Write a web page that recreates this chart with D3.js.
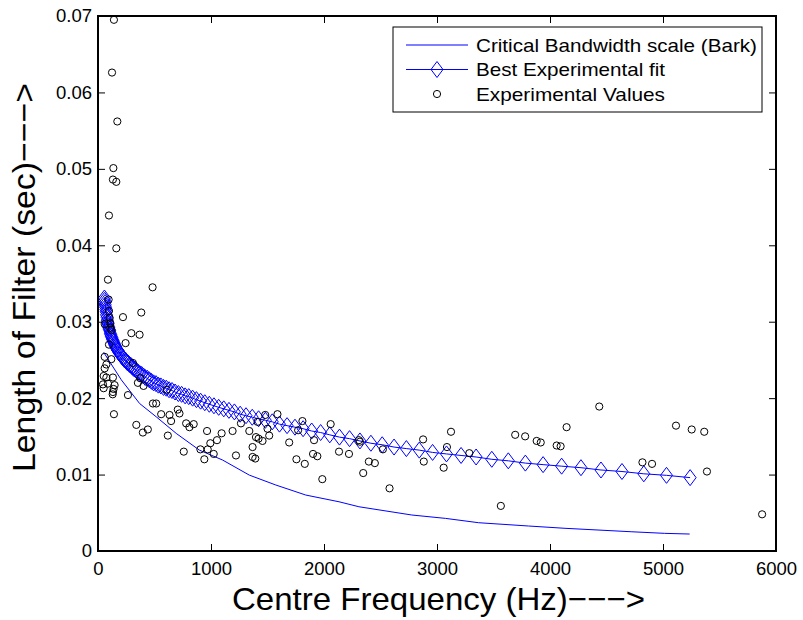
<!DOCTYPE html>
<html>
<head>
<meta charset="utf-8">
<script src="https://cdn.jsdelivr.net/npm/d3@7"></script>
<style>
  html, body { margin: 0; padding: 0; background: #fff; }
  svg { display: block; font-family: "Liberation Sans", Arial, Helvetica, sans-serif; }
</style>
</head>
<body>
<svg id="chart" width="803" height="620"></svg>
<script>
// Critical bandwidth (Bark) curve: centre frequency (Hz) and filter length (s)
const barkFreq = [50, 206, 368, 515, 692, 897, 1103, 1339, 1574, 1839, 2133, 2309, 2777, 3074, 3369, 3810, 4133, 4718, 5015, 5236];
const barkLen  = [0.0260, 0.0224, 0.0193, 0.01756, 0.01539, 0.0132, 0.0119, 0.00993, 0.00863, 0.00732, 0.00644, 0.00579, 0.00471, 0.00427, 0.0037, 0.00327, 0.00297, 0.00252, 0.00231, 0.00222];

// Best experimental fit, evaluated at the filter-bank centre frequencies
const fitFreq = [
  57, 59, 62, 64, 67, 70, 72, 75, 79, 82,
  85, 89, 93, 96, 100, 105, 109, 113, 118, 123, 128, 134, 139, 145, 151, 157, 164,
  171, 178, 185, 193, 201, 209, 218, 227, 236, 246, 256, 267, 278, 290, 302, 314, 328,
  341, 355, 370, 386, 402, 418, 436, 454, 473, 492, 513, 534, 556, 580, 604, 629, 655,
  682, 711, 740, 771, 803, 837, 871, 908, 945, 985, 1026, 1068, 1113, 1159, 1207, 1258, 1310,
  1365, 1421, 1481, 1542, 1606, 1673, 1743, 1815, 1891, 1970, 2051, 2137, 2226, 2318, 2415, 2515, 2620,
  2729, 2843, 2961, 3084, 3213, 3346, 3485, 3631, 3782, 3939, 4103, 4274, 4451, 4637, 4830, 5031, 5240
];
const fitLen = [
  0.0331, 0.0328, 0.0325, 0.0322, 0.0319, 0.0316, 0.0313, 0.0309, 0.0306, 0.0302,
  0.0299, 0.0297, 0.0294, 0.0292, 0.0290, 0.0288, 0.0285, 0.0283, 0.0281, 0.0279, 0.0277, 0.0275, 0.0273, 0.0271, 0.0269, 0.0267, 0.0265,
  0.0263, 0.0262, 0.0260, 0.0258, 0.0257, 0.0255, 0.0253, 0.0252, 0.0250, 0.0249, 0.0247, 0.0246, 0.0244, 0.0243, 0.0241, 0.0239, 0.0238,
  0.0236, 0.0234, 0.0232, 0.0231, 0.0229, 0.0227, 0.0226, 0.0224, 0.0222, 0.0220, 0.0219, 0.0217, 0.0216, 0.0214, 0.0213, 0.0211, 0.0210,
  0.0208, 0.0206, 0.0205, 0.0203, 0.0202, 0.0200, 0.0198, 0.0196, 0.0194, 0.0192, 0.0190, 0.0188, 0.0186, 0.0184, 0.0182, 0.0179, 0.0177,
  0.0175, 0.0173, 0.0171, 0.0169, 0.0166, 0.0164, 0.0162, 0.0160, 0.0157, 0.0155, 0.0152, 0.0149, 0.0147, 0.0144, 0.0141, 0.0139, 0.0136,
  0.0134, 0.0132, 0.0129, 0.0127, 0.0125, 0.0123, 0.0120, 0.0118, 0.0115, 0.0113, 0.0111, 0.0109, 0.0106, 0.0104, 0.0101, 0.0099, 0.0096
];

// Experimental values (centre frequency in Hz, filter length in s)
const expFreq = [
  141, 124, 171, 136, 132, 162, 97, 162,
  59, 88, 94, 97, 103, 109, 109, 118, 97, 59, 118, 74, 59, 50, 74, 132, 44, 88, 50, 147, 138, 132, 130, 141,
  221, 383, 295, 368, 244, 309, 374, 353, 403, 609, 265, 483,
  486, 515, 706, 721, 559, 633, 647, 339, 397, 441, 618, 780, 809, 847, 759, 965, 906, 971, 994, 941, 1024, 1053, 1094,
  1191, 1221, 1265, 1339, 1368, 1368, 1392, 1398, 1421, 1456, 1412, 1480, 1500, 1515, 1588, 1692, 1756, 1771, 1809, 1830,
  1903, 1912, 1941, 1985, 2059, 2133, 2221, 2309, 2318, 2397, 2450, 2347, 2521, 2580, 2877, 2883, 3059, 3088, 3124, 3286,
  3565, 3692, 3780, 3882, 3918, 4059, 4094, 4147, 4436, 4818, 4903, 5115, 5254, 5365, 5389, 5877
];
const expLen = [
  0.0695, 0.0626, 0.0562, 0.0501, 0.0486, 0.0483, 0.0439, 0.0396,
  0.0297, 0.0355, 0.0329, 0.0314, 0.0305, 0.0298, 0.0292, 0.0289, 0.0270, 0.0254, 0.0251, 0.0244, 0.0239, 0.0229, 0.0227, 0.0227, 0.0218, 0.0219, 0.0213, 0.0217, 0.0212, 0.0208, 0.0205, 0.0179,
  0.0306, 0.0312, 0.0285, 0.0283, 0.0272, 0.0246, 0.0226, 0.0220, 0.0216, 0.0211, 0.0204, 0.0345,
  0.0193, 0.0193, 0.0185, 0.0180, 0.0179, 0.0178, 0.0170, 0.0165, 0.0155, 0.0159, 0.0151, 0.0167, 0.0162, 0.0166, 0.0130, 0.0157, 0.0133, 0.0133, 0.0141, 0.0120, 0.0127, 0.0145, 0.0154,
  0.0157, 0.0125, 0.0167, 0.0157, 0.0136, 0.0123, 0.0121, 0.0149, 0.0147, 0.0144, 0.0169, 0.0178, 0.0160, 0.0151, 0.0179, 0.0142, 0.0120, 0.0158, 0.0170, 0.0114,
  0.0127, 0.0145, 0.0124, 0.0094, 0.0166, 0.0130, 0.0127, 0.0145, 0.0143, 0.0117, 0.0115, 0.0102, 0.0133, 0.0082, 0.0146, 0.0117, 0.0109, 0.0136, 0.0156, 0.0128,
  0.0059, 0.0152, 0.0150, 0.0144, 0.0142, 0.0138, 0.0137, 0.0162, 0.0189, 0.0116, 0.0114, 0.0164, 0.0159, 0.0156, 0.0104, 0.0048
];

const xTicks = [0, 1000, 2000, 3000, 4000, 5000, 6000];
const yTicks = [0, 0.01, 0.02, 0.03, 0.04, 0.05, 0.06, 0.07];

const seriesNames = ["Critical Bandwidth scale (Bark)", "Best Experimental fit", "Experimental Values"];
const xTitle = "Centre Frequency (Hz)−−−>";
const yTitle = "Length of Filter (sec)−−−>";

const BLUE = "#0000ff";
const svg = d3.select("#chart");

const plot = { left: 98, right: 776, top: 16, bottom: 551 };
const x = d3.scaleLinear().domain([0, 6000]).range([plot.left, plot.right]);
const y = d3.scaleLinear().domain([0, 0.07]).range([plot.bottom, plot.top]);

const tickLen = 7;
const tickFont = "18.5px";

// Tick marks pointing into the plot on all four sides
const axisBottom = d3.axisBottom(x).tickValues(xTicks).tickSize(-tickLen).tickPadding(11).tickFormat(d3.format("d"));
const axisTop = d3.axisTop(x).tickValues(xTicks).tickSize(-tickLen).tickFormat("");
const axisLeft = d3.axisLeft(y).tickValues(yTicks).tickSize(-tickLen).tickPadding(6).tickFormat(d => d === 0 ? "0" : d3.format(".2f")(d));
const axisRight = d3.axisRight(y).tickValues(yTicks).tickSize(-tickLen).tickFormat("");

function styleAxis(g) {
  g.select(".domain").remove();
  g.selectAll(".tick line").attr("stroke", "#000").attr("stroke-width", 1);
  g.selectAll(".tick text").attr("fill", "#000").style("font-size", tickFont)
    .style("font-family", "'Liberation Sans', Arial, sans-serif");
}

svg.append("g").attr("transform", `translate(0,${plot.bottom})`).call(axisBottom).call(styleAxis);
svg.append("g").attr("transform", `translate(0,${plot.top})`).call(axisTop).call(styleAxis);
svg.append("g").attr("transform", `translate(${plot.left},0)`).call(axisLeft).call(styleAxis);
svg.append("g").attr("transform", `translate(${plot.right},0)`).call(axisRight).call(styleAxis);

// Clip marks to the axes box
svg.append("clipPath").attr("id", "plotClip").append("rect")
  .attr("x", plot.left).attr("y", plot.top)
  .attr("width", plot.right - plot.left).attr("height", plot.bottom - plot.top);

const marks = svg.append("g").attr("clip-path", "url(#plotClip)");

const lineGen = d3.line().x(d => x(d[0])).y(d => y(d[1]));

// Bark curve
marks.append("path")
  .datum(barkFreq.map((f, i) => [f, barkLen[i]]))
  .attr("d", lineGen)
  .attr("fill", "none").attr("stroke", BLUE).attr("stroke-width", 1);

// Fit line with diamond markers
const fitData = fitFreq.map((f, i) => [f, fitLen[i]]);
marks.append("path")
  .datum(fitData)
  .attr("d", lineGen)
  .attr("fill", "none").attr("stroke", BLUE).attr("stroke-width", 1);

const dHalfW = 6, dHalfH = 8;
const diamondPath = `M0,${-dHalfH}L${dHalfW},0L0,${dHalfH}L${-dHalfW},0Z`;
marks.append("g").selectAll("path")
  .data(fitData).join("path")
  .attr("transform", d => `translate(${x(d[0])},${y(d[1])})`)
  .attr("d", diamondPath)
  .attr("fill", "none").attr("stroke", BLUE).attr("stroke-width", 1);

// Experimental points
marks.append("g").selectAll("circle")
  .data(expFreq.map((f, i) => [f, expLen[i]])).join("circle")
  .attr("cx", d => x(d[0])).attr("cy", d => y(d[1]))
  .attr("r", 3.6)
  .attr("fill", "none").attr("stroke", "#000").attr("stroke-width", 1);

// Axes box
svg.append("rect")
  .attr("x", plot.left).attr("y", plot.top)
  .attr("width", plot.right - plot.left).attr("height", plot.bottom - plot.top)
  .attr("fill", "none").attr("stroke", "#000").attr("stroke-width", 2);

// Axis titles
svg.append("text")
  .attr("x", 438.5).attr("y", 610)
  .attr("text-anchor", "middle")
  .attr("textLength", 413).attr("lengthAdjust", "spacingAndGlyphs")
  .style("font-size", "32px").attr("fill", "#000")
  .text(xTitle);

svg.append("text")
  .attr("transform", "translate(35,277.5) rotate(-90)")
  .attr("text-anchor", "middle")
  .attr("textLength", 389).attr("lengthAdjust", "spacingAndGlyphs")
  .style("font-size", "32px").attr("fill", "#000")
  .text(yTitle);

// Legend
const legend = svg.append("g");
legend.append("rect")
  .attr("x", 393).attr("y", 27).attr("width", 369).attr("height", 85)
  .attr("fill", "#fff").attr("stroke", "#000").attr("stroke-width", 1);

const rowY = [45, 69.5, 94];
const textWidths = [281, 189, 189];
const sampleX0 = 406, sampleX1 = 468, sampleMid = 437, textX = 476;

// row 1: line
legend.append("line").attr("x1", sampleX0).attr("x2", sampleX1).attr("y1", rowY[0]).attr("y2", rowY[0])
  .attr("stroke", BLUE).attr("stroke-width", 1);
// row 2: line + diamond
legend.append("line").attr("x1", sampleX0).attr("x2", sampleX1).attr("y1", rowY[1]).attr("y2", rowY[1])
  .attr("stroke", BLUE).attr("stroke-width", 1);
legend.append("path").attr("transform", `translate(${sampleMid},${rowY[1]})`).attr("d", diamondPath)
  .attr("fill", "none").attr("stroke", BLUE).attr("stroke-width", 1);
// row 3: circle
legend.append("circle").attr("cx", sampleMid).attr("cy", rowY[2]).attr("r", 3.6)
  .attr("fill", "none").attr("stroke", "#000").attr("stroke-width", 1);

legend.selectAll("text.label").data(seriesNames).join("text")
  .attr("class", "label")
  .attr("x", textX).attr("y", (d, i) => rowY[i])
  .attr("dy", "0.36em")
  .attr("textLength", (d, i) => textWidths[i]).attr("lengthAdjust", "spacingAndGlyphs")
  .style("font-size", "19px").attr("fill", "#000")
  .text(d => d);
</script>
</body>
</html>
